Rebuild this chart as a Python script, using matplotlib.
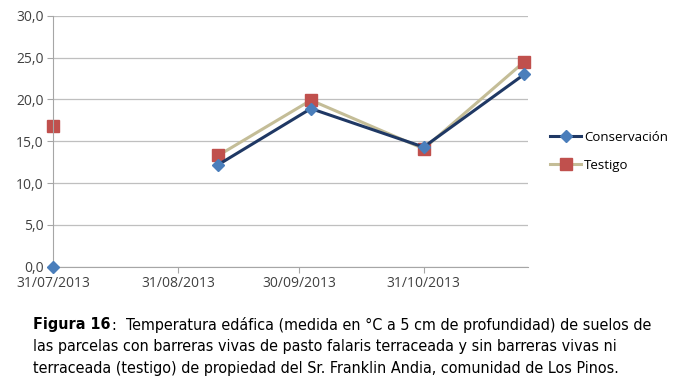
import numpy as np
import pandas as pd
import matplotlib
matplotlib.use("Agg")
import matplotlib.pyplot as plt
import matplotlib.dates as mdates

# fechas de muestreo (la fecha vacía produce el corte de la línea)
fechas = pd.to_datetime(["2013-07-31", "2013-08-20", "2013-09-10", "2013-10-03",
                         "2013-10-31", "2013-11-25"])
conservacion = [0.0, np.nan, 12.2, 18.9, 14.3, 23.0]
testigo = [16.8, np.nan, 13.3, 19.9, 14.1, 24.5]
xticks = pd.to_datetime(["2013-07-31", "2013-08-31", "2013-09-30", "2013-10-31"])
yticks = [0, 5, 10, 15, 20, 25, 30]

plt.rcParams['font.family'] = ['Open Sans', 'DejaVu Sans']

fig = plt.figure(figsize=(6.83, 3.84), dpi=100)
ax = fig.add_axes([0.078, 0.3055, 0.6955, 0.6535])

ax.plot(fechas, conservacion, color='#1F3864', lw=2.2, marker='D', ms=6,
        mfc='#4A7EBB', mec='#4A7EBB', label='Conservación', zorder=3, clip_on=False)
ax.plot(fechas, testigo, color='#C4BD97', lw=2.2, marker='s', ms=9,
        mfc='#C0504D', mec='#C0504D', label='Testigo', zorder=2, clip_on=False)

ax.set_xlim(pd.Timestamp("2013-07-31"), pd.Timestamp("2013-11-26"))
ax.set_ylim(0, 30)
ax.set_yticks(yticks)
ax.set_yticklabels([f"{v:.1f}".replace('.', ',') for v in yticks])
ax.set_xticks(xticks)
ax.xaxis.set_major_formatter(mdates.DateFormatter('%d/%m/%Y'))

ax.grid(axis='y', color='#BFBFBF', lw=0.9)
ax.set_axisbelow(True)
for s in ['top', 'right']:
    ax.spines[s].set_visible(False)
for s in ['left', 'bottom']:
    ax.spines[s].set_color('#A6A6A6')
ax.tick_params(axis='x', colors='#A6A6A6', length=4, labelcolor='#404040',
               labelsize=10, pad=3)
ax.tick_params(axis='y', colors='#A6A6A6', length=4, labelcolor='#404040',
               labelsize=10, pad=3)

ax.legend(loc='center left', bbox_to_anchor=(1.02, 0.46), frameon=False,
          fontsize=9.5, handlelength=2.4, handletextpad=0.2, labelspacing=1.1)

# pie de figura
cap_kw = dict(family=['DejaVu Sans'], fontstretch='condensed', va='center')
lineas = [":  Temperatura edáfica (medida en °C a 5 cm de profundidad) de suelos de",
          "las parcelas con barreras vivas de pasto falaris terraceada y sin barreras vivas ni",
          "terraceada (testigo) de propiedad del Sr. Franklin Andia, comunidad de Los Pinos."]
ys = [1 - 325 / 384, 1 - 347 / 384, 1 - 368 / 384]
x0 = 33 / 683

# ajustar el tamaño para que la primera línea mida ~618 px como en el original
fs = 11
renderer = fig.canvas.get_renderer()
tb = fig.text(x0, ys[0], "Figura 16", fontsize=fs, fontweight='bold', **cap_kw)
tr = fig.text(0, ys[0], lineas[0], fontsize=fs, **cap_kw)
w = tb.get_window_extent(renderer).width + tr.get_window_extent(renderer).width
fs = fs * 618 / w
tb.set_fontsize(fs)
tr.set_fontsize(fs)
bb = tb.get_window_extent(renderer)
tr.set_x((bb.x1 + 1) / 683)
fig.text(x0, ys[1], lineas[1], fontsize=fs, **cap_kw)
fig.text(x0, ys[2], lineas[2], fontsize=fs, **cap_kw)

fig.savefig("out.png", dpi=100)
